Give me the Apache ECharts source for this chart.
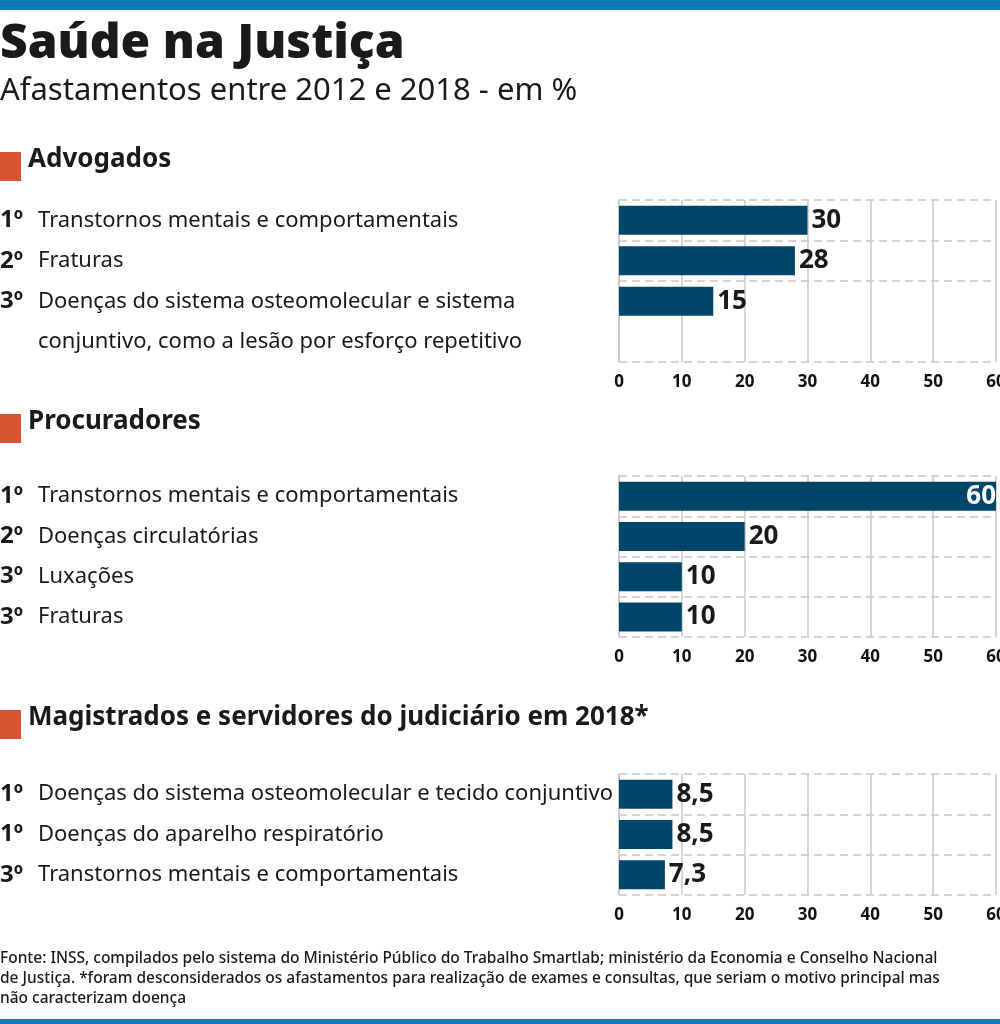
<!DOCTYPE html>
<html><head><meta charset="utf-8">
<script src="https://cdn.jsdelivr.net/npm/echarts@6/dist/echarts.min.js"></script>
<style>html,body{margin:0;background:#fff}#c{width:1000px;height:1024px}</style>
</head><body><div id="c"></div>
<script>
// dados
var xTicks = [0, 10, 20, 30, 40, 50, 60]
var advRank = ['1º', '2º', '3º', '']
var advCats = ['Transtornos mentais e comportamentais', 'Fraturas', 'Doenças do sistema osteomolecular e sistema', 'conjuntivo, como a lesão por esforço repetitivo']
var advVals = [30, 28, 15, '-']
var procRank = ['1º', '2º', '3º', '3º']
var procCats = ['Transtornos mentais e comportamentais', 'Doenças circulatórias', 'Luxações', 'Fraturas']
var procVals = [60, 20, 10, 10]
var magRank = ['1º', '1º', '3º']
var magCats = ['Doenças do sistema osteomolecular e tecido conjuntivo', 'Doenças do aparelho respiratório', 'Transtornos mentais e comportamentais']
var magVals = [8.5, 8.5, 7.3]

var barColor = '#00466b'
var font = 'Noto Sans'
var chart = echarts.init(document.getElementById('c'))

function makeGrid(i, top, height, skipLine) {
  return {
    grid: { left: 619, width: 377, top: top, height: height, outerBoundsMode: 'none', containLabel: false },
    x: {
      gridIndex: i, type: 'value', min: 0, max: 60, interval: 10,
      axisLine: { show: false }, axisTick: { show: false },
      splitLine: { lineStyle: { color: '#c8c8cc', width: 1.5 } },
      axisLabel: { color: '#111', fontSize: 17, fontWeight: 'bold', fontFamily: font, margin: 12 }
    },
    y: function (rank, cats) {
      return {
        gridIndex: i, type: 'category', inverse: true, data: cats,
        axisLine: { lineStyle: { color: '#c8c8cc', width: 1.5 } },
        axisTick: { show: false },
        splitLine: {
          show: true,
          interval: function (idx) { return skipLine === undefined || idx !== skipLine },
          lineStyle: { color: '#c8c8cc', type: [8, 5], width: 1.5 }
        },
        axisLabel: {
          align: 'left', margin: 619,
          formatter: function (v, k) { return '{r|' + rank[k] + '}{t|' + v + '}' },
          rich: {
            r: { fontFamily: font, fontWeight: 'bold', fontSize: 24, color: '#1a1a1a', width: 38 },
            t: { fontFamily: font, fontSize: 22, color: '#1a1a1a' }
          }
        }
      }
    }
  }
}
var g1 = makeGrid(0, 200, 162, 3), g2 = makeGrid(1, 476, 161), g3 = makeGrid(2, 774, 121)

function series(i, vals) {
  return {
    type: 'bar', xAxisIndex: i, yAxisIndex: i, barWidth: 29,
    data: vals.map(function (v) {
      if (v === 60) return { value: v, label: { position: 'insideRight', color: '#fff', offset: [4, 0] } }
      return v
    }),
    itemStyle: { color: barColor },
    label: {
      show: true, position: 'right', distance: 4, color: '#1a1a1a', fontSize: 26,
      fontWeight: 'bold', fontFamily: font,
      formatter: function (p) { return String(p.value).replace('.', ',') }
    },
    silent: true
  }
}

function header(y, text) {
  return [
    { type: 'rect', shape: { x: 0, y: y - 14, width: 21, height: 29 }, style: { fill: '#d4552f' } },
    { type: 'text', left: 28, top: y - 19, style: { text: text, fontFamily: font, fontWeight: 'bold', fontSize: 26, fill: '#1a1a1a' } }
  ]
}

chart.setOption({
  animation: false,
  grid: [g1.grid, g2.grid, g3.grid],
  xAxis: [g1.x, g2.x, g3.x],
  yAxis: [g1.y(advRank, advCats), g2.y(procRank, procCats), g3.y(magRank, magCats)],
  series: [series(0, advVals), series(1, procVals), series(2, magVals)],
  graphic: [
    { type: 'rect', shape: { x: 0, y: 0, width: 1000, height: 10 }, style: { fill: '#0a7bb5' } },
    { type: 'rect', shape: { x: 0, y: 1019, width: 1000, height: 5 }, style: { fill: '#0a7bb5' } },
    { type: 'text', left: 0, top: 20, style: { text: 'Saúde na Justiça', fontFamily: font, fontWeight: 900, fontSize: 48, fill: '#1a1a1a' } },
    { type: 'text', left: 0, top: 76, style: { text: 'Afastamentos entre 2012 e 2018 - em %', fontFamily: font, fontSize: 31, fill: '#1a1a1a' } }
  ].concat(header(166, 'Advogados'), header(428, 'Procuradores'), header(724, 'Magistrados e servidores do judiciário em 2018*'), [
    { type: 'text', left: 0, top: 949, style: {
      text: 'Fonte: INSS, compilados pelo sistema do Ministério Público do Trabalho Smartlab; ministério da Economia e Conselho Nacional\nde Justiça. *foram desconsiderados os afastamentos para realização de exames e consultas, que seriam o motivo principal mas\nnão caracterizam doença',
      fontFamily: font, fontWeight: 500, fontSize: 15.5, lineHeight: 20, fill: '#1a1a1a' } }
  ])
})
</script></body></html>
